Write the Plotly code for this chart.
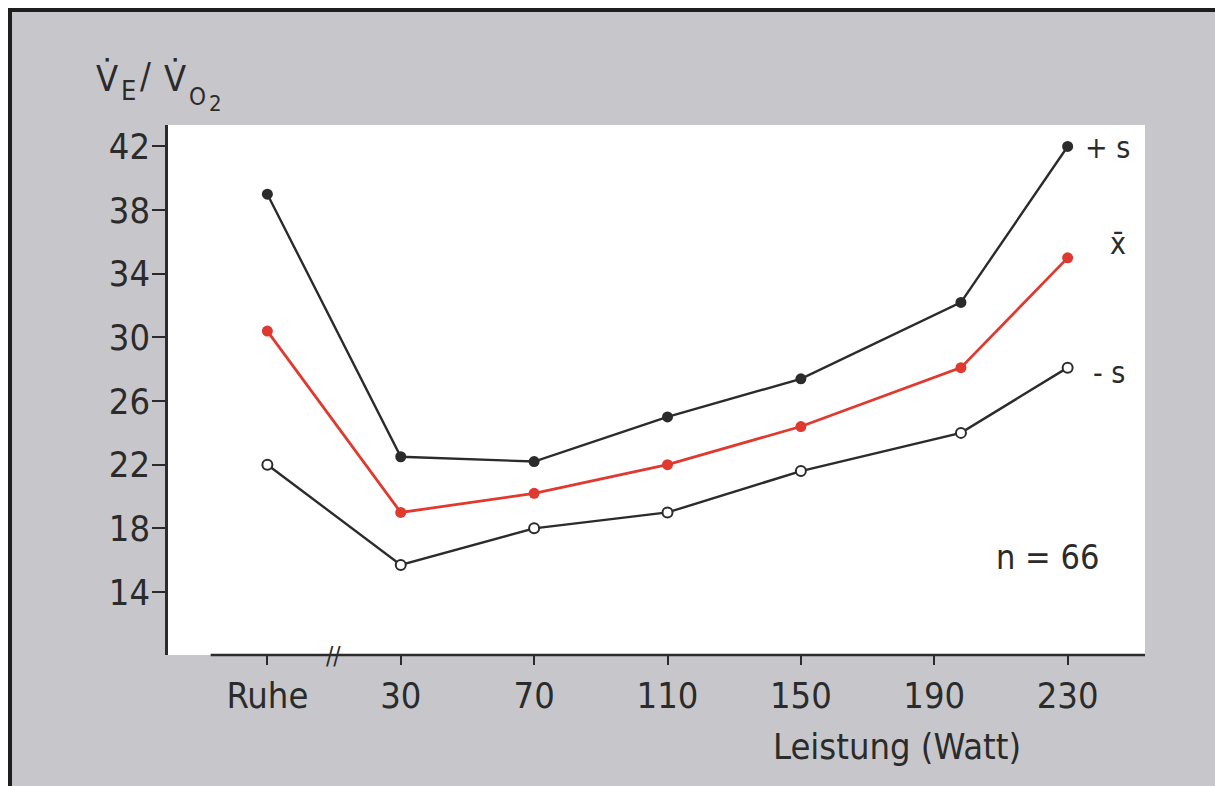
import plotly.graph_objects as go

# Ventilatory equivalent for O2 at rest and at increasing workloads (n = 66)
stages = ["Ruhe", "30", "70", "110", "150", "190", "230"]
stage_watts = [-10, 30, 70, 110, 150, 190, 230]      # tick positions (Ruhe drawn left of the axis break)
point_watts = [-10, 30, 70, 110, 150, 198, 230]      # where the measurements are plotted
mean_plus_s = [39.0, 22.5, 22.2, 25.0, 27.4, 32.2, 42.0]
mean_vals = [30.4, 19.0, 20.2, 22.0, 24.4, 28.1, 35.0]
mean_minus_s = [22.0, 15.7, 18.0, 19.0, 21.6, 24.0, 28.1]
y_ticks = [14, 18, 22, 26, 30, 34, 38, 42]

W, H = 1215, 786
FONT = "Liberation Sans Narrow, DejaVu Sans Condensed, Arial Narrow, Liberation Sans, sans-serif"
INK = "#2b2b2b"
RED = "#e0392f"
BG = "#c7c7cb"

X0, X1 = 168, 1145   # plot area, pixels
Y0, Y1 = 125, 655


def px(x):
    return x / W


def py(y):
    return 1 - y / H


fig = go.Figure()

fig.add_trace(go.Scatter(
    x=point_watts, y=mean_plus_s, mode="lines+markers",
    line=dict(color=INK, width=2.4),
    marker=dict(symbol="circle", size=11, color=INK),
    hoverinfo="skip",
))
fig.add_trace(go.Scatter(
    x=point_watts, y=mean_vals, mode="lines+markers",
    line=dict(color=RED, width=2.8),
    marker=dict(symbol="circle", size=11, color=RED),
    hoverinfo="skip",
))
fig.add_trace(go.Scatter(
    x=point_watts, y=mean_minus_s, mode="lines+markers",
    line=dict(color=INK, width=2.4),
    marker=dict(symbol="circle", size=10, color="white", line=dict(color=INK, width=2)),
    hoverinfo="skip",
))

shapes = [
    # gray panel with dark frame
    dict(type="rect", xref="paper", yref="paper", x0=px(10), x1=px(W + 20), y0=py(H + 20), y1=py(10),
         fillcolor=BG, line=dict(color="#1e1e1e", width=4), layer="below"),
    # white plotting field
    dict(type="rect", xref="paper", yref="paper", x0=px(X0), x1=px(X1), y0=py(Y1), y1=py(Y0),
         fillcolor="white", line=dict(width=0), layer="below"),
    # bottom axis line (starts right of the y-axis)
    dict(type="line", xref="x", yref="paper", x0=-27, x1=253.2, y0=py(Y1), y1=py(Y1),
         line=dict(color=INK, width=2.5)),
]

annotations = []


def label(text, x, y, size, xanchor="left", yanchor="middle"):
    annotations.append(dict(text=text, x=px(x), y=py(y), xref="paper", yref="paper",
                            showarrow=False, xanchor=xanchor, yanchor=yanchor, borderpad=0,
                            font=dict(family=FONT, size=size, color=INK)))


# axis break marker
label("//", 333, 656, 24, xanchor="center")

# series labels
label("+ s", 1084, 147, 30)
label("x̄", 1109, 243, 30)
label("- s", 1092, 372, 30)
label("n = 66", 995, 557, 34)

# y-axis title: V̇E / V̇O2, set piece by piece
label("V̇", 95, 78, 36)
label("E", 120, 91, 27)
label("/", 139, 76, 36)
label("V̇", 163, 78, 36)
label("O", 188, 97, 24)
label("2", 208, 104, 22)

# x-axis title
label("Leistung (Watt)", 1022, 746, 36, xanchor="right")

fig.update_layout(
    width=W, height=H,
    margin=dict(l=0, r=0, t=0, b=0),
    paper_bgcolor="white",
    plot_bgcolor="rgba(0,0,0,0)",
    showlegend=False,
    shapes=shapes,
    annotations=annotations,
    xaxis=dict(
        domain=[px(X0), px(X1)], range=[-39.8, 253.2],
        tickmode="array", tickvals=stage_watts, ticktext=stages,
        ticks="outside", ticklen=9, tickwidth=2, tickcolor=INK,
        showgrid=False, zeroline=False, showline=False,
        tickfont=dict(family=FONT, size=36, color=INK),
        ticklabelstandoff=0,
    ),
    yaxis=dict(
        domain=[py(Y1), py(Y0)], range=[10.04, 43.35],
        tickmode="array", tickvals=y_ticks,
        ticks="outside", ticklen=13, tickwidth=2, tickcolor=INK,
        showgrid=False, zeroline=False,
        showline=True, linecolor=INK, linewidth=2.5,
        tickfont=dict(family=FONT, size=36, color=INK),
        ticklabelstandoff=-5,
    ),
)

fig.write_html("out.html")
